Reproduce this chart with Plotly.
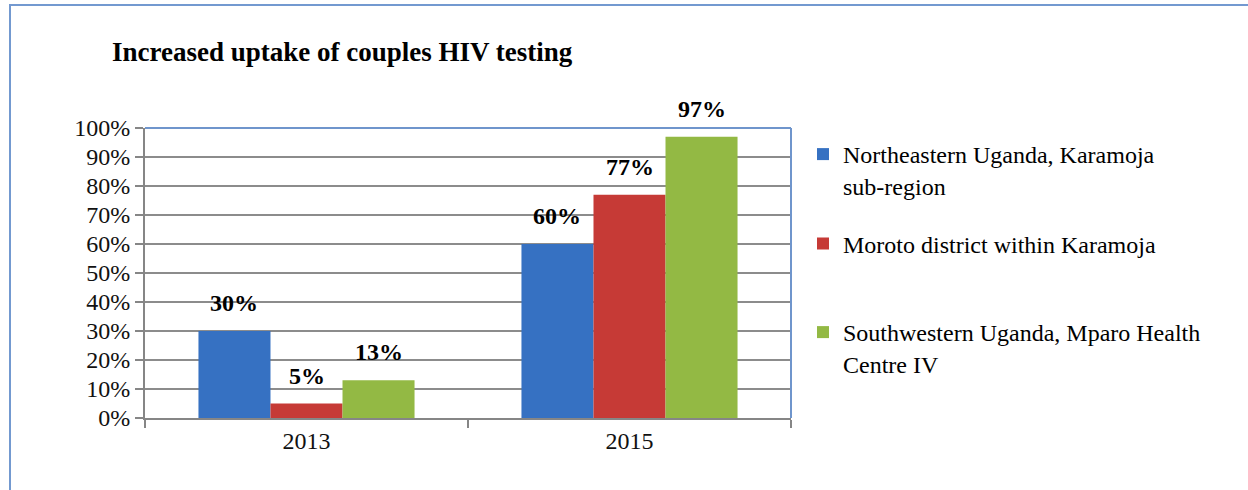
import plotly.graph_objects as go

years = ["2013", "2015"]
series_names = [
    "Northeastern Uganda, Karamoja<br>sub-region",
    "Moroto district within Karamoja",
    "Southwestern Uganda, Mparo Health<br>Centre IV",
]
northeastern = [0.30, 0.60]
moroto = [0.05, 0.77]
southwestern = [0.13, 0.97]
y_ticks = [0, 0.1, 0.2, 0.3, 0.4, 0.5, 0.6, 0.7, 0.8, 0.9, 1.0]
title_text = "Increased uptake of couples HIV testing"

colors = ["#3671C2", "#C63A36", "#93B944"]
values = [northeastern, moroto, southwestern]

W, H = 1248, 490
L, R, T, B = 145, 457, 128, 72
pw, ph = W - L - R, H - T - B
FONT = "Liberation Serif"
bargap = 0.331

fig = go.Figure()
legend_ids = ["legend", "legend2", "legend3"]
for i, (name, vals, col) in enumerate(zip(series_names, values, colors)):
    fig.add_trace(go.Bar(
        x=years, y=vals, name=name, marker=dict(color=col, line=dict(width=0)),
        legend=legend_ids[i], cliponaxis=False,
    ))

# data labels
bw = (1 - bargap) / 3
annotations = []
for i, vals in enumerate(values):
    for j, v in enumerate(vals):
        annotations.append(dict(
            x=j + (i - 1) * bw, y=v, xref="x", yref="y",
            text="<b>%d%%</b>" % round(v * 100), showarrow=False,
            yanchor="middle", yshift=28,
            font=dict(family=FONT, size=24, color="black"),
        ))

def px2x(px):
    return (px - L) / pw

def px2y(py):
    return (H - B - py) / ph

shapes = [
    # outer chart border
    dict(type="rect", xref="paper", yref="paper",
         x0=px2x(10), x1=px2x(1262), y0=px2y(505), y1=px2y(5),
         line=dict(color="#7399D0", width=2)),
    # plot area top and right border
    dict(type="line", xref="paper", yref="paper", x0=0, x1=1, y0=1, y1=1,
         line=dict(color="#6F95CC", width=2)),
    dict(type="line", xref="paper", yref="paper", x0=1, x1=1, y0=0, y1=1,
         line=dict(color="#6F95CC", width=2)),
]

legend_common = dict(
    xref="paper", yref="paper", x=px2x(803), xanchor="left", yanchor="middle",
    font=dict(family=FONT, size=24, color="black"), bgcolor="rgba(0,0,0,0)",
    itemwidth=30, valign="top",
)

fig.update_layout(
    width=W, height=H,
    margin=dict(l=L, r=R, t=T, b=B),
    paper_bgcolor="white", plot_bgcolor="white",
    barmode="group", bargap=bargap, bargroupgap=0,
    title=dict(text="<b>" + title_text + "</b>", xref="container", yref="container",
               x=112 / W, xanchor="left", y=1 - 52 / H, yanchor="middle",
               font=dict(family=FONT, size=27, color="black")),
    xaxis=dict(type="category", showgrid=False, showline=True, linecolor="#868686", linewidth=2,
               ticks="outside", tickson="boundaries", ticklen=8, tickcolor="#868686", tickwidth=2,
               tickfont=dict(family=FONT, size=24, color="#111111"), range=[-0.5, 1.5]),
    yaxis=dict(range=[0, 1], tickvals=y_ticks, tickformat=".0%", showgrid=True,
               gridcolor="#8C8C8C", gridwidth=1.5, showline=True, linecolor="#868686", linewidth=2,
               ticks="outside", ticklen=8, tickcolor="#868686", tickwidth=2, zeroline=False,
               tickfont=dict(family=FONT, size=24, color="#111111")),
    legend=dict(**legend_common, y=px2y(170)),
    legend2=dict(**legend_common, y=px2y(244)),
    legend3=dict(**legend_common, y=px2y(348)),
    annotations=annotations,
    shapes=shapes,
    showlegend=True,
)

fig.write_html("out.html", config={"displayModeBar": False},
               post_script="document.body.style.margin='0';")
